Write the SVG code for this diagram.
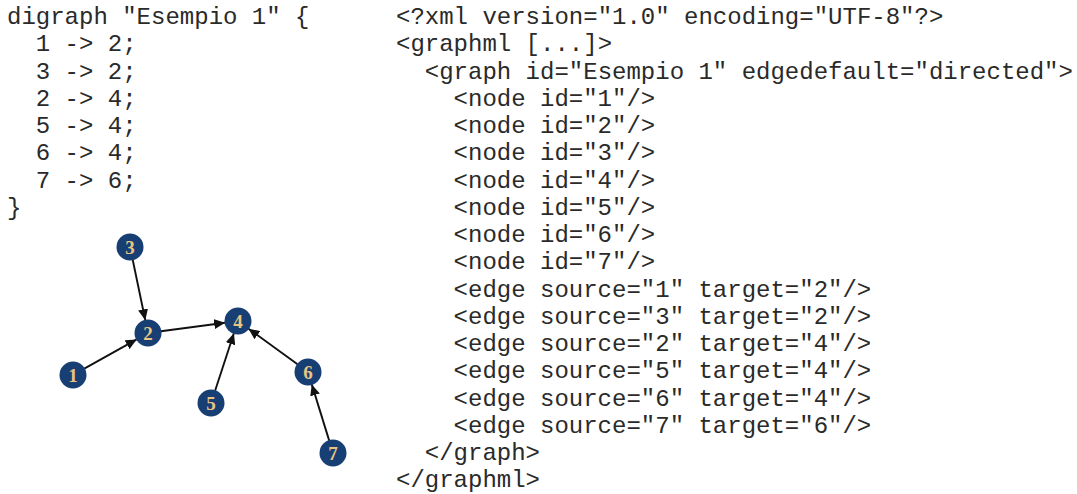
<svg xmlns="http://www.w3.org/2000/svg" width="1077" height="494" viewBox="0 0 1077 494">
  <style>
    .code { font-family: "Liberation Mono", "Courier New", monospace; font-size: 24px; fill: #2a2a2a; }
    .node circle { fill: #173f74; }
    .node text { font-family: "Liberation Serif", "Times New Roman", serif; font-weight: bold; font-size: 19px; fill: #e9c582; text-anchor: middle; }
    .edge { stroke: #111; stroke-width: 1.9; fill: none; marker-end: url(#arrow); }
  </style>
  <defs>
    <marker id="arrow" markerUnits="userSpaceOnUse" markerWidth="12" markerHeight="10" refX="11" refY="5" orient="auto">
      <path d="M0,0 L11,5 L0,10 z" fill="#111"/>
    </marker>
  </defs>
  <rect width="1077" height="494" fill="#ffffff"/>

  <!-- DOT source -->
  <g id="dot-source" class="code">
    <text x="7" y="24">digraph "Esempio 1" {</text>
    <text x="35.8" y="51.25">1 -&gt; 2;</text>
    <text x="35.8" y="78.5">3 -&gt; 2;</text>
    <text x="35.8" y="105.75">2 -&gt; 4;</text>
    <text x="35.8" y="133">5 -&gt; 4;</text>
    <text x="35.8" y="160.25">6 -&gt; 4;</text>
    <text x="35.8" y="187.5">7 -&gt; 6;</text>
    <text x="7" y="214.75">}</text>
  </g>

  <!-- GraphML source -->
  <g id="graphml-source" class="code">
    <text x="396" y="24">&lt;?xml version="1.0" encoding="UTF-8"?&gt;</text>
    <text x="396" y="51.25">&lt;graphml [...]&gt;</text>
    <text x="424.8" y="78.5">&lt;graph id="Esempio 1" edgedefault="directed"&gt;</text>
    <text x="453.6" y="105.75">&lt;node id="1"/&gt;</text>
    <text x="453.6" y="133">&lt;node id="2"/&gt;</text>
    <text x="453.6" y="160.25">&lt;node id="3"/&gt;</text>
    <text x="453.6" y="187.5">&lt;node id="4"/&gt;</text>
    <text x="453.6" y="214.75">&lt;node id="5"/&gt;</text>
    <text x="453.6" y="242">&lt;node id="6"/&gt;</text>
    <text x="453.6" y="269.25">&lt;node id="7"/&gt;</text>
    <text x="453.6" y="296.5">&lt;edge source="1" target="2"/&gt;</text>
    <text x="453.6" y="323.75">&lt;edge source="3" target="2"/&gt;</text>
    <text x="453.6" y="351">&lt;edge source="2" target="4"/&gt;</text>
    <text x="453.6" y="378.25">&lt;edge source="5" target="4"/&gt;</text>
    <text x="453.6" y="405.5">&lt;edge source="6" target="4"/&gt;</text>
    <text x="453.6" y="432.75">&lt;edge source="7" target="6"/&gt;</text>
    <text x="424.8" y="460">&lt;/graph&gt;</text>
    <text x="396" y="487.25">&lt;/graphml&gt;</text>
  </g>

  <!-- connectors -->
  <g id="edges">
    <line class="edge" x1="84.3" y1="368.6" x2="136.7" y2="339.4"/>
    <line class="edge" x1="132.7" y1="259.7" x2="145.3" y2="320.3"/>
    <line class="edge" x1="160.9" y1="331.3" x2="225.1" y2="322.7"/>
    <line class="edge" x1="215.1" y1="390.7" x2="233.9" y2="333.3"/>
    <line class="edge" x1="297.5" y1="364.3" x2="248.5" y2="328.7"/>
    <line class="edge" x1="329.2" y1="440.6" x2="311.8" y2="384.4"/>
  </g>

  <!-- nodes -->
  <g id="node-1" class="node"><circle cx="73" cy="375" r="13.5"/><text x="73" y="381.5">1</text></g>
  <g id="node-2" class="node"><circle cx="148" cy="333" r="13.5"/><text x="148" y="339.5">2</text></g>
  <g id="node-3" class="node"><circle cx="130" cy="247" r="13.5"/><text x="130" y="253.5">3</text></g>
  <g id="node-4" class="node"><circle cx="238" cy="321" r="13.5"/><text x="238" y="327.5">4</text></g>
  <g id="node-5" class="node"><circle cx="211" cy="403" r="13.5"/><text x="211" y="409.5">5</text></g>
  <g id="node-6" class="node"><circle cx="308" cy="372" r="13.5"/><text x="308" y="378.5">6</text></g>
  <g id="node-7" class="node"><circle cx="333" cy="453" r="13.5"/><text x="333" y="459.5">7</text></g>
</svg>
